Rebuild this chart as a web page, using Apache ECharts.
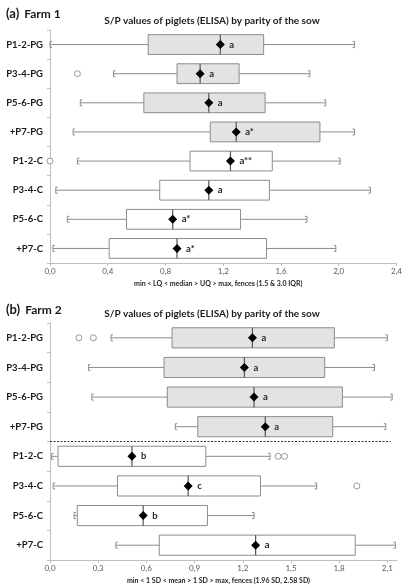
<!DOCTYPE html>
<html>
<head>
<meta charset="utf-8">
<script src="https://cdn.jsdelivr.net/npm/echarts@6/dist/echarts.min.js"></script>
<style>html,body{margin:0;padding:0;background:#fff}#c{width:405px;height:585px}</style>
</head>
<body>
<div id="c"></div>
<script>
const categories = ['P1-2-PG','P3-4-PG','P5-6-PG','+P7-PG','P1-2-C','P3-4-C','P5-6-C','+P7-C'];

// Farm 1 (box: min, LQ, median, UQ, max); mean marker
const farm1Min  = [0.00, 0.44, 0.21, 0.16, 0.19, 0.04, 0.12, 0.02];
const farm1Q1   = [0.68, 0.88, 0.65, 1.11, 0.97, 0.76, 0.53, 0.41];
const farm1Med  = [1.18, 1.04, 1.10, 1.29, 1.25, 1.10, 0.85, 0.88];
const farm1Q3   = [1.48, 1.31, 1.49, 1.87, 1.54, 1.52, 1.32, 1.50];
const farm1Max  = [2.11, 1.80, 1.91, 2.11, 2.01, 2.22, 1.78, 1.98];
const farm1Mean = [1.18, 1.04, 1.10, 1.29, 1.25, 1.10, 0.85, 0.88];
const farm1Letters = ['a','a','a','a*','a**','a','a*','a*'];
const farm1Outliers = [[0.19, 'P3-4-PG'], [0.00, 'P1-2-C']];

// Farm 2 (box: min, -1 SD, mean, +1 SD, max)
const farm2Min  = [0.38, 0.24, 0.26, 0.78, 0.01, 0.02, 0.15, 0.41];
const farm2Q1   = [0.76, 0.71, 0.73, 0.92, 0.05, 0.42, 0.17, 0.68];
const farm2Med  = [1.26, 1.21, 1.27, 1.34, 0.51, 0.86, 0.58, 1.28];
const farm2Q3   = [1.77, 1.71, 1.82, 1.76, 0.97, 1.31, 0.98, 1.90];
const farm2Max  = [2.10, 2.02, 2.13, 2.09, 1.37, 1.66, 1.27, 2.15];
const farm2Mean = [1.26, 1.21, 1.27, 1.34, 0.51, 0.86, 0.58, 1.28];
const farm2Letters = ['a','a','a','a','b','c','b','a'];
const farm2Outliers = [[0.18, 'P1-2-PG'], [0.27, 'P1-2-PG'], [1.42, 'P1-2-C'], [1.46, 'P1-2-C'], [1.91, 'P3-4-C']];

const FONT = 'Lato';
const GREY = '#8c8c8c';

function buildData(mn, q1, md, q3, mx, mean) {
  return categories.map((c, i) => [i, mn[i], q1[i], md[i], q3[i], mx[i], mean[i]]);
}

function makeRender(letters, withSeparator) {
  return function (params, api) {
    const idx = api.value(0);
    const band = api.size([0, 1])[1];
    const bh = band * 0.68;
    const pMin = api.coord([api.value(1), idx]);
    const pQ1 = api.coord([api.value(2), idx]);
    const pMed = api.coord([api.value(3), idx]);
    const pQ3 = api.coord([api.value(4), idx]);
    const pMax = api.coord([api.value(5), idx]);
    const pMean = api.coord([api.value(6), idx]);
    const y = pMed[1];
    const isPG = categories[idx].indexOf('PG') >= 0;
    const ch = 3, sw = 2;
    const children = [
      { type: 'line', shape: { x1: pMin[0], y1: y, x2: pQ1[0], y2: y }, style: { stroke: GREY, lineWidth: 1 } },
      { type: 'line', shape: { x1: pQ3[0], y1: y, x2: pMax[0], y2: y }, style: { stroke: GREY, lineWidth: 1 } },
      { type: 'polyline', shape: { points: [[pMin[0] + sw, y - ch], [pMin[0], y - ch], [pMin[0], y + ch], [pMin[0] + sw, y + ch]] }, style: { stroke: GREY, fill: null, lineWidth: 1 } },
      { type: 'polyline', shape: { points: [[pMax[0] - sw, y - ch], [pMax[0], y - ch], [pMax[0], y + ch], [pMax[0] - sw, y + ch]] }, style: { stroke: GREY, fill: null, lineWidth: 1 } },
      { type: 'rect', shape: { x: pQ1[0], y: y - bh / 2, width: pQ3[0] - pQ1[0], height: bh }, style: { fill: isPG ? '#e3e3e3' : '#ffffff', stroke: GREY, lineWidth: 1 } },
      { type: 'line', shape: { x1: pMed[0], y1: y - bh / 2, x2: pMed[0], y2: y + bh / 2 }, style: { stroke: '#555555', lineWidth: 1.2 } },
      { type: 'polygon', shape: { points: [[pMean[0], y - 4.5], [pMean[0] + 4.5, y], [pMean[0], y + 4.5], [pMean[0] - 4.5, y]] }, style: { fill: '#000000' } },
      { type: 'text', style: { x: pMean[0] + 9, y: y, text: letters[params.dataIndex], fill: '#262626', font: 'bold 9.5px ' + FONT, verticalAlign: 'middle', align: 'left' } }
    ];
    if (withSeparator && categories[idx] === 'P1-2-C') {
      const cs = params.coordSys;
      children.push({ type: 'line', shape: { x1: cs.x, y1: y - band / 2, x2: api.coord([2.12, idx])[0], y2: y - band / 2 }, style: { stroke: '#333333', lineWidth: 1, lineDash: [2, 1.5] } });
    }
    return { type: 'group', children: children };
  };
}

const commaFmt = v => v.toFixed(1).replace('.', ',');

function xAxisCfg(gi, max, interval, name, showMax) {
  return {
    type: 'value', gridIndex: gi, min: 0, max: max, interval: interval,
    axisLine: { show: true, lineStyle: { color: '#bfbfbf' } },
    axisTick: { show: true, length: 3, lineStyle: { color: '#bfbfbf' } },
    splitLine: { show: false },
    axisLabel: { formatter: commaFmt, fontSize: 8, color: '#595959', fontFamily: FONT, margin: 4, showMaxLabel: showMax },
    name: name, nameLocation: 'middle', nameGap: 17,
    nameTextStyle: { fontSize: 7, fontWeight: 'bold', color: '#262626', fontFamily: FONT, padding: [0, 10, 0, 0] }
  };
}
function yAxisCfg(gi) {
  return {
    type: 'category', gridIndex: gi, data: categories, inverse: true,
    axisLine: { show: true, lineStyle: { color: '#bfbfbf' } },
    axisTick: { show: true, length: 3, lineStyle: { color: '#bfbfbf' } },
    axisLabel: { fontSize: 9.5, fontWeight: 'bold', color: '#1a1a1a', fontFamily: FONT, margin: 7 },
    splitLine: { show: false }
  };
}

const chart = echarts.init(document.getElementById('c'), null, { renderer: 'canvas' });
chart.setOption({
  animation: false,
  backgroundColor: '#ffffff',
  title: [
    { text: '{n|(a)} {b|Farm 1}', left: 1, top: 0, textStyle: { rich: { n: { fontSize: 13, fontFamily: FONT, color: '#1a1a1a' }, b: { fontSize: 12, fontWeight: 'bold', fontFamily: FONT, color: '#1a1a1a' } } } },
    { text: 'S/P values of piglets (ELISA) by parity of the sow', left: 207, top: 11, textAlign: 'center', textStyle: { fontSize: 10, fontWeight: 'bold', fontFamily: FONT, color: '#1a1a1a' } },
    { text: '{n|(b)} {b|Farm 2}', left: 1, top: 296, textStyle: { rich: { n: { fontSize: 13, fontFamily: FONT, color: '#1a1a1a' }, b: { fontSize: 12, fontWeight: 'bold', fontFamily: FONT, color: '#1a1a1a' } } } },
    { text: 'S/P values of piglets (ELISA) by parity of the sow', left: 207, top: 304, textAlign: 'center', textStyle: { fontSize: 10, fontWeight: 'bold', fontFamily: FONT, color: '#1a1a1a' } }
  ],
  grid: [
    { left: 50, top: 30, width: 349, height: 233 },
    { left: 50, top: 323, width: 347, height: 239 }
  ],
  xAxis: [
    xAxisCfg(0, 2.4, 0.4, 'min < LQ < median > UQ > max, fences (1.5 & 3.0 IQR)', true),
    xAxisCfg(1, 2.16, 0.3, 'min < 1 SD < mean > 1 SD > max, fences (1.96 SD, 2.58 SD)', false)
  ],
  yAxis: [yAxisCfg(0), yAxisCfg(1)],
  series: [
    { type: 'custom', xAxisIndex: 0, yAxisIndex: 0, renderItem: makeRender(farm1Letters, false),
      encode: { x: [1, 2, 3, 4, 5, 6], y: 0 }, data: buildData(farm1Min, farm1Q1, farm1Med, farm1Q3, farm1Max, farm1Mean) },
    { type: 'scatter', xAxisIndex: 0, yAxisIndex: 0, symbol: 'circle', symbolSize: 6,
      itemStyle: { color: '#ffffff', borderColor: '#7f7f7f', borderWidth: 1 }, data: farm1Outliers },
    { type: 'custom', xAxisIndex: 1, yAxisIndex: 1, renderItem: makeRender(farm2Letters, true),
      encode: { x: [1, 2, 3, 4, 5, 6], y: 0 }, data: buildData(farm2Min, farm2Q1, farm2Med, farm2Q3, farm2Max, farm2Mean) },
    { type: 'scatter', xAxisIndex: 1, yAxisIndex: 1, symbol: 'circle', symbolSize: 6,
      itemStyle: { color: '#ffffff', borderColor: '#7f7f7f', borderWidth: 1 }, data: farm2Outliers }
  ]
});
</script>
</body>
</html>
